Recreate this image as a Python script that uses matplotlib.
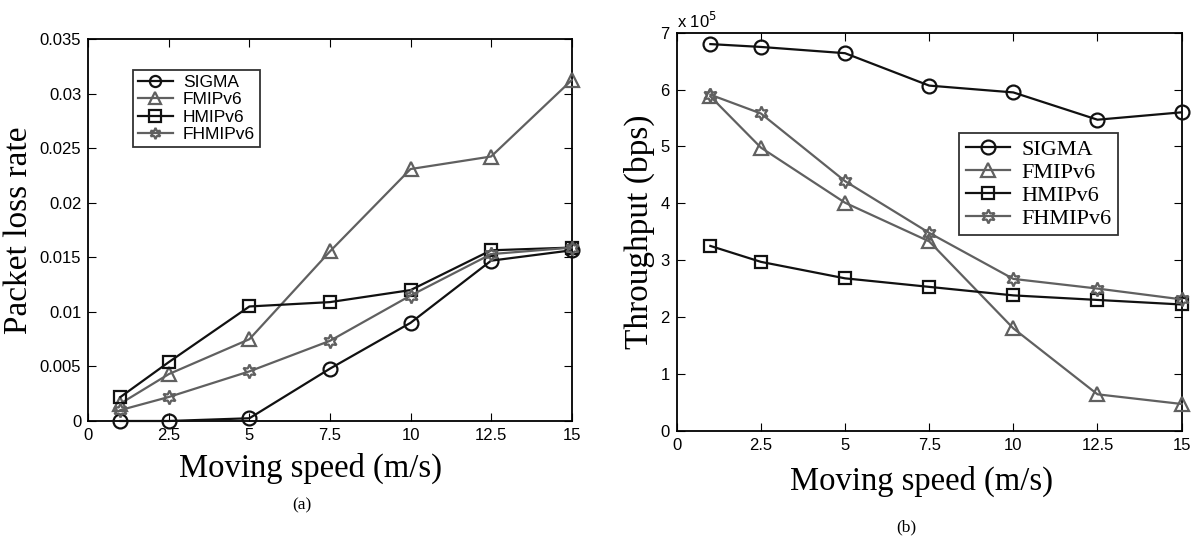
import matplotlib
matplotlib.use("Agg")
import matplotlib.pyplot as plt
from matplotlib.ticker import FuncFormatter

speed = [1, 2.5, 5, 7.5, 10, 12.5, 15]
schemes = ["SIGMA", "FMIPv6", "HMIPv6", "FHMIPv6"]

# packet loss rate
loss_sigma = [0.0, 0.0, 0.00025, 0.0048, 0.009, 0.0147, 0.01565]
loss_fmip = [0.0016, 0.0043, 0.0075, 0.01555, 0.0231, 0.02425, 0.03125]
loss_hmip = [0.0022, 0.0054, 0.0105, 0.0109, 0.0120, 0.01565, 0.0159]
loss_fhmip = [0.001, 0.0022, 0.00455, 0.00735, 0.01150, 0.0153, 0.0159]

# throughput in bps
thr_sigma = [680000, 675000, 664000, 607000, 595000, 547000, 560000]
thr_fmip = [588000, 498000, 401000, 333000, 180000, 64000, 47000]
thr_hmip = [325000, 297000, 268000, 253000, 238000, 230000, 222000]
thr_fhmip = [591000, 558000, 439000, 348000, 267000, 250000, 231000]

xticks = [0, 2.5, 5, 7.5, 10, 12.5, 15]
xticklabels = ["0", "2.5", "5", "7.5", "10", "12.5", "15"]

black = "#111111"
gray = "#606060"
styles = [
    dict(color=black, marker="o"),
    dict(color=gray, marker="^"),
    dict(color=black, marker="s"),
    dict(color=gray, marker=(6, 1, 0)),
]
sans = "Liberation Sans"
serif = "Liberation Serif"

fig = plt.figure(figsize=(11.96, 5.4), dpi=100)
ax1 = fig.add_axes([0.0738, 0.2204, 0.4042, 0.7069])
ax2 = fig.add_axes([0.5658, 0.2024, 0.4222, 0.7370])


def draw(ax, series):
    for name, ys, st in zip(schemes, series, styles):
        ms = 10 if st["marker"] != "s" else 9
        ax.plot(speed, ys, label=name, lw=1.6, markersize=ms,
                markerfacecolor="none", markeredgewidth=1.6,
                clip_on=False, zorder=3, **st)
    ax.set_xlim(0, 15)
    ax.set_xticks(xticks)
    ax.set_xticklabels(xticklabels)
    ax.tick_params(direction="in", top=True, right=True, length=6,
                   labelsize=12, width=0.8, pad=5)
    for lab in ax.get_xticklabels() + ax.get_yticklabels():
        lab.set_fontfamily(sans)
    for sp in ax.spines.values():
        sp.set_linewidth(1.3)
    ax.set_xlabel("Moving speed (m/s)", fontfamily=serif, fontsize=23.5)


draw(ax1, [loss_sigma, loss_fmip, loss_hmip, loss_fhmip])
ax1.set_ylim(0, 0.035)
ax1.set_yticks([0, 0.005, 0.01, 0.015, 0.02, 0.025, 0.03, 0.035])
ax1.set_yticklabels(["0", "0.005", "0.01", "0.015", "0.02", "0.025",
                     "0.03", "0.035"], fontfamily=sans)
ax1.set_ylabel("Packet loss rate", fontfamily=serif, fontsize=24,
               labelpad=4)
ax1.xaxis.set_label_coords(0.459, -0.082)
leg1 = ax1.legend(loc="upper left", bbox_to_anchor=(0.092, 0.92),
                  prop={"family": sans, "size": 12.5}, frameon=True,
                  fancybox=False, edgecolor="black", handlelength=2.0,
                  borderpad=0.3, labelspacing=0.12, handletextpad=0.6,
                  borderaxespad=0)
leg1.get_frame().set_linewidth(1.3)
for h in leg1.legend_handles:
    h.set_markersize(8)

draw(ax2, [thr_sigma, thr_fmip, thr_hmip, thr_fhmip])
ax2.set_ylim(0, 700000)
ax2.set_yticks([i * 100000 for i in range(8)])
ax2.yaxis.set_major_formatter(FuncFormatter(lambda v, p: "%d" % round(v / 1e5)))
for lab in ax2.get_yticklabels():
    lab.set_fontfamily(sans)
ax2.text(0.0, 1.005, r"x 10$^5$", transform=ax2.transAxes, ha="left",
         va="bottom", fontsize=12, fontfamily=sans)
ax2.set_ylabel("Throughput (bps)", fontfamily=serif, fontsize=24,
               labelpad=4)
ax2.xaxis.set_label_coords(0.484, -0.087)
leg2 = ax2.legend(loc="upper left", bbox_to_anchor=(0.559, 0.748),
                  prop={"family": serif, "size": 16}, frameon=True,
                  fancybox=False, edgecolor="black", handlelength=2.0,
                  borderpad=0.3, labelspacing=0.1, handletextpad=0.5,
                  borderaxespad=0)
leg2.get_frame().set_linewidth(1.3)

fig.text(0.2525, 0.064, "(a)", ha="center", va="center", fontfamily=serif,
         fontsize=12.5)
fig.text(0.7575, 0.024, "(b)", ha="center", va="center", fontfamily=serif,
         fontsize=12.5)

fig.savefig("out.png", dpi=100)
